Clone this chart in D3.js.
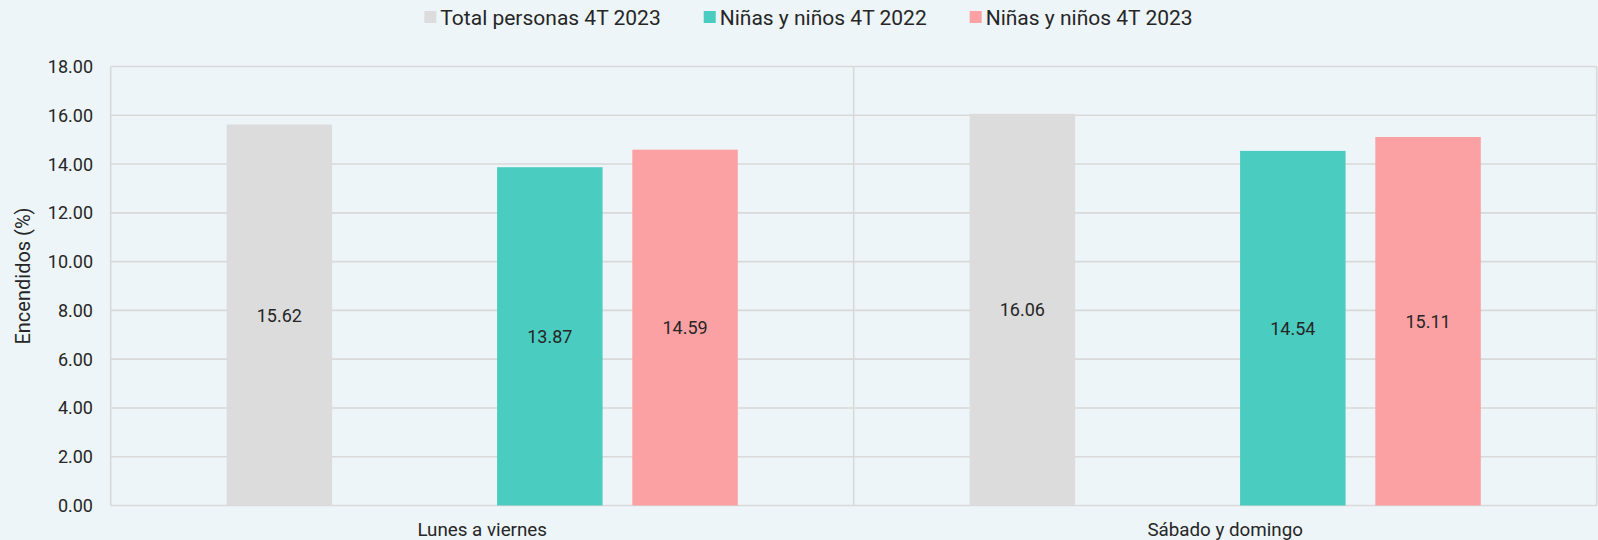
<!DOCTYPE html>
<html>
<head>
<meta charset="utf-8">
<script src="https://cdn.jsdelivr.net/npm/d3@7"></script>
<style>
  html, body { margin: 0; padding: 0; background: #EDF5F8; }
  svg { display: block; }
  text { font-family: Roboto, "Noto Sans", sans-serif; fill: #262626; }
</style>
</head>
<body>
<script>
// ---- data ----
const categories = ["Lunes a viernes", "Sábado y domingo"];
const seriesNames = ["Total personas 4T 2023", "Total personas 4T 2022", "Niñas y niños 4T 2022", "Niñas y niños 4T 2023"];
const totalPersonas2023 = [15.62, 16.06];
const totalPersonas2022 = [null, null];   // empty slot in the original chart
const ninos2022 = [13.87, 14.54];
const ninos2023 = [14.59, 15.11];
const seriesValues = [totalPersonas2023, totalPersonas2022, ninos2022, ninos2023];
const seriesColors = ["#DCDCDC", "none", "#4ACCC0", "#FCA1A3"];
const yTicks = [0, 2, 4, 6, 8, 10, 12, 14, 16, 18];
const yTitle = "Encendidos (%)";

const W = 1598, H = 540;
const margin = { left: 110.7, right: 1.3, top: 66.5, bottom: 34.5 };

const svg = d3.select("body").append("svg").attr("width", W).attr("height", H);
svg.append("rect").attr("width", W).attr("height", H).attr("fill", "#EDF5F8");

const x0 = d3.scaleBand().domain(categories).range([margin.left, W - margin.right]).paddingInner(0).paddingOuter(0);
const x1 = d3.scaleBand().domain(seriesNames).range([0, x0.bandwidth()]).paddingInner(0.22).paddingOuter(0.857);
const y = d3.scaleLinear().domain([0, 18]).range([H - margin.bottom, margin.top]);

const gridColor = "#D9D9D9";

// horizontal gridlines
svg.append("g").selectAll("line").data(yTicks).join("line")
  .attr("x1", margin.left).attr("x2", W - margin.right)
  .attr("y1", d => y(d)).attr("y2", d => y(d))
  .attr("stroke", gridColor).attr("stroke-width", 1.6);

// vertical lines (axis + category separators)
const vxs = categories.map(c => x0(c)).concat([W - margin.right]);
svg.append("g").selectAll("line").data(vxs).join("line")
  .attr("x1", d => d).attr("x2", d => d)
  .attr("y1", y(18)).attr("y2", y(0))
  .attr("stroke", gridColor).attr("stroke-width", 1.6);

// bars
const barData = [];
categories.forEach((c, ci) => {
  seriesNames.forEach((s, si) => {
    const v = seriesValues[si][ci];
    if (v != null) barData.push({ c, s, v, color: seriesColors[si] });
  });
});

const gBars = svg.append("g");
gBars.selectAll("rect").data(barData).join("rect")
  .attr("x", d => x0(d.c) + x1(d.s))
  .attr("width", x1.bandwidth())
  .attr("y", d => y(d.v))
  .attr("height", d => y(0) - y(d.v))
  .attr("fill", d => d.color);

// data labels centered in bars
gBars.selectAll("text").data(barData).join("text")
  .attr("x", d => x0(d.c) + x1(d.s) + x1.bandwidth() / 2)
  .attr("y", d => (y(d.v) + y(0)) / 2)
  .attr("text-anchor", "middle")
  .attr("dominant-baseline", "central")
  .attr("font-size", 18)
  .text(d => d.v.toFixed(2));

// y tick labels
svg.append("g").selectAll("text").data(yTicks).join("text")
  .attr("x", 93)
  .attr("y", d => y(d))
  .attr("text-anchor", "end")
  .attr("dominant-baseline", "central")
  .attr("font-size", 18)
  .text(d => d.toFixed(2));

// category labels
svg.append("g").selectAll("text").data(categories).join("text")
  .attr("x", d => x0(d) + x0.bandwidth() / 2)
  .attr("y", 529.5)
  .attr("text-anchor", "middle")
  .attr("dominant-baseline", "central")
  .attr("font-size", 18.8)
  .text(d => d);

// y axis title
svg.append("text")
  .attr("transform", "translate(23," + 276 + ") rotate(-90)")
  .attr("text-anchor", "middle")
  .attr("dominant-baseline", "central")
  .attr("font-size", 20)
  .text(yTitle);

// legend
const legendItems = seriesNames.map((s, i) => ({ s, color: seriesColors[i], has: seriesValues[i].some(v => v != null) }))
  .filter(d => d.has);
const lg = svg.append("g");
const items = lg.selectAll("g").data(legendItems).join("g");
items.append("rect").attr("width", 12).attr("height", 12).attr("y", 11).attr("fill", d => d.color);
items.append("text").attr("x", 16).attr("y", 17.5)
  .attr("dominant-baseline", "central").attr("font-size", 21)
  .text(d => d.s);
let cx = 0;
const positions = [];
items.each(function () {
  const tw = d3.select(this).select("text").node().getComputedTextLength();
  positions.push(cx);
  cx += 16 + tw + 43;
});
const total = cx - 43;
const startX = 808.5 - total / 2;
items.attr("transform", (d, i) => "translate(" + (startX + positions[i]) + ",0)");
</script>
</body>
</html>
